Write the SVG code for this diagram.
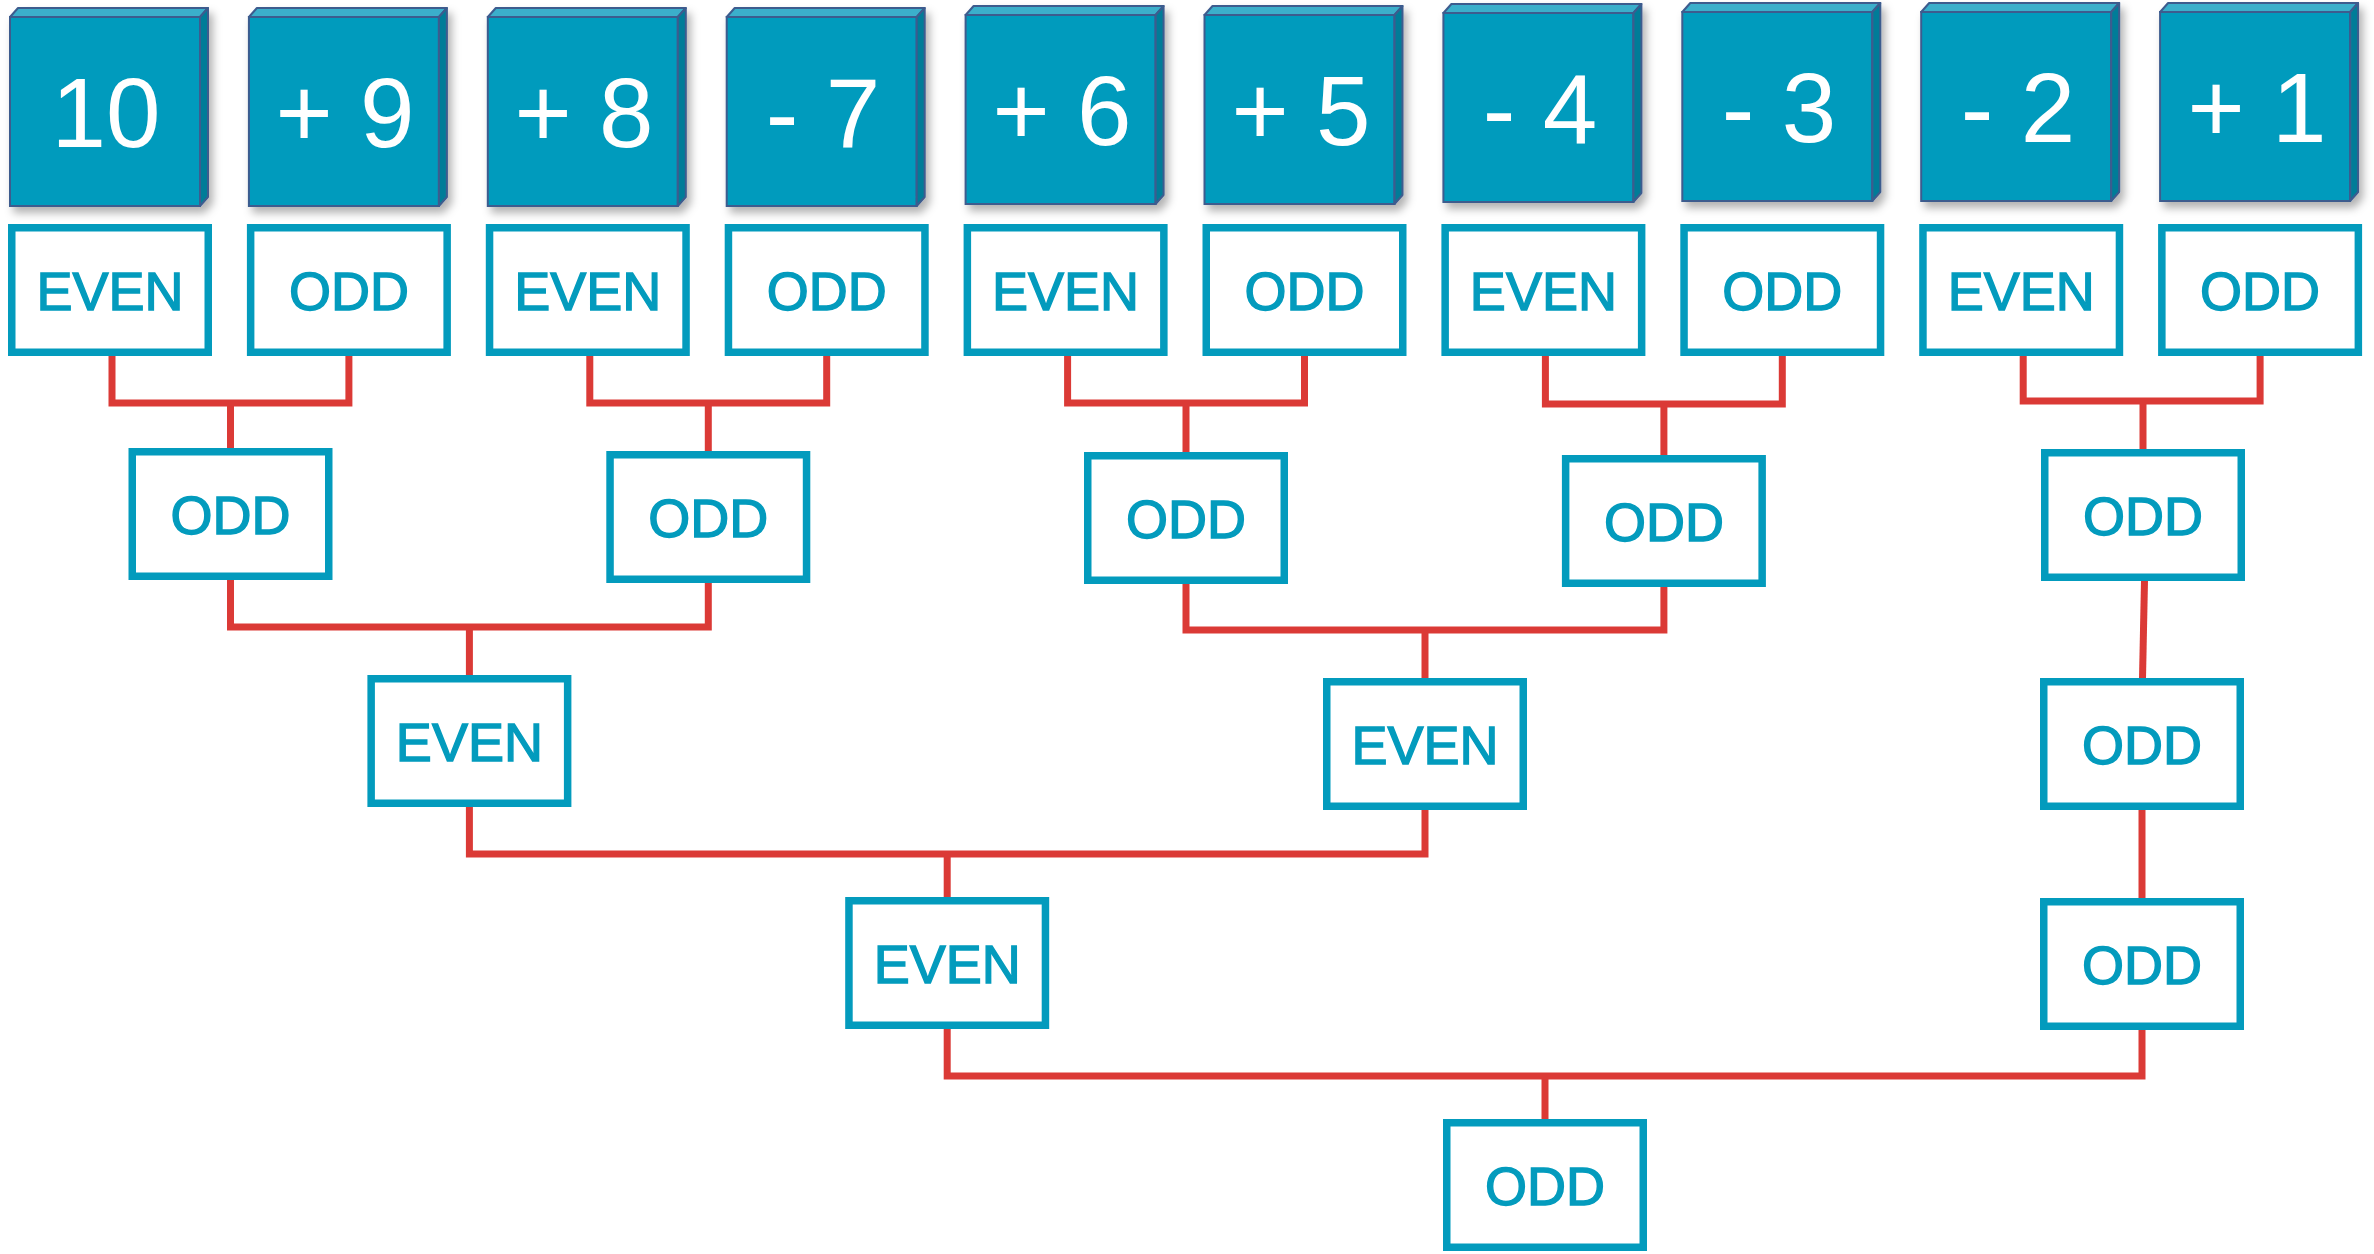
<svg xmlns="http://www.w3.org/2000/svg" width="2374" height="1254" viewBox="0 0 2374 1254">
<defs>
<filter id="sh" x="-10%" y="-10%" width="130%" height="130%">
<feDropShadow dx="4" dy="6" stdDeviation="4" flood-color="#000" flood-opacity="0.3"/>
</filter>
<style>
.front{fill:#039BBD;stroke:#3C5B8E;stroke-width:2}
.top{fill:#3AAFCB;stroke:#3C5B8E;stroke-width:2;stroke-linejoin:round}
.side{fill:#047C98;stroke:#3C5B8E;stroke-width:2;stroke-linejoin:round}
.num{font-family:"Liberation Sans",Arial,sans-serif;font-size:98px;fill:#fff;text-anchor:middle}
.box{fill:#fff;stroke:#039BBD;stroke-width:7.5}
.lbl{font-family:"Liberation Sans",Arial,sans-serif;font-size:54px;fill:#039BBD;stroke:#039BBD;stroke-width:1.4;text-anchor:middle}
.wire{fill:none;stroke:#DB3A36;stroke-width:7}
</style>
</defs>
<rect width="2374" height="1254" fill="#fff"/>

<g id="blocks">
<g id="b1" filter="url(#sh)"><rect class="front" x="10" y="17" width="190" height="189"/><polygon class="top" points="10,17 18,8 208,8 200,17"/><polygon class="side" points="200,17 208,8 208,197 200,206"/><text class="num" x="106" y="147">10</text></g>
<g id="b2" filter="url(#sh)"><rect class="front" x="248.9" y="17" width="190" height="189"/><polygon class="top" points="248.9,17 256.9,8 446.9,8 438.9,17"/><polygon class="side" points="438.9,17 446.9,8 446.9,197 438.9,206"/><text class="num" x="345" y="147">+ 9</text></g>
<g id="b3" filter="url(#sh)"><rect class="front" x="487.8" y="17" width="190" height="189"/><polygon class="top" points="487.8,17 495.8,8 685.8,8 677.8,17"/><polygon class="side" points="677.8,17 685.8,8 685.8,197 677.8,206"/><text class="num" x="584" y="147">+ 8</text></g>
<g id="b4" filter="url(#sh)"><rect class="front" x="726.7" y="17" width="190" height="189"/><polygon class="top" points="726.7,17 734.7,8 924.7,8 916.7,17"/><polygon class="side" points="916.7,17 924.7,8 924.7,197 916.7,206"/><text class="num" x="823" y="147">- 7</text></g>
<g id="b5" filter="url(#sh)"><rect class="front" x="965.6" y="15" width="190" height="189"/><polygon class="top" points="965.6,15 973.6,6 1163.6,6 1155.6,15"/><polygon class="side" points="1155.6,15 1163.6,6 1163.6,195 1155.6,204"/><text class="num" x="1062" y="145">+ 6</text></g>
<g id="b6" filter="url(#sh)"><rect class="front" x="1204.5" y="15" width="190" height="189"/><polygon class="top" points="1204.5,15 1212.5,6 1402.5,6 1394.5,15"/><polygon class="side" points="1394.5,15 1402.5,6 1402.5,195 1394.5,204"/><text class="num" x="1301" y="145">+ 5</text></g>
<g id="b7" filter="url(#sh)"><rect class="front" x="1443.4" y="13" width="190" height="189"/><polygon class="top" points="1443.4,13 1451.4,4 1641.4,4 1633.4,13"/><polygon class="side" points="1633.4,13 1641.4,4 1641.4,193 1633.4,202"/><text class="num" x="1540" y="143">- 4</text></g>
<g id="b8" filter="url(#sh)"><rect class="front" x="1682.3" y="12" width="190" height="189"/><polygon class="top" points="1682.3,12 1690.3,3 1880.3,3 1872.3,12"/><polygon class="side" points="1872.3,12 1880.3,3 1880.3,192 1872.3,201"/><text class="num" x="1779" y="142">- 3</text></g>
<g id="b9" filter="url(#sh)"><rect class="front" x="1921.2" y="12" width="190" height="189"/><polygon class="top" points="1921.2,12 1929.2,3 2119.2,3 2111.2,12"/><polygon class="side" points="2111.2,12 2119.2,3 2119.2,192 2111.2,201"/><text class="num" x="2018" y="142">- 2</text></g>
<g id="b10" filter="url(#sh)"><rect class="front" x="2160.1" y="12" width="190" height="189"/><polygon class="top" points="2160.1,12 2168.1,3 2358.1,3 2350.1,12"/><polygon class="side" points="2350.1,12 2358.1,3 2358.1,192 2350.1,201"/><text class="num" x="2257" y="142">+ 1</text></g>
</g>

<g id="connectors">
<path class="wire" d="M112,356 V403 H348.9 V356 M230.5,403 V448"/>
<path class="wire" d="M589.8,356 V403 H826.7 V356 M708.3,403 V451"/>
<path class="wire" d="M1067.6,356 V403 H1304.5 V356 M1186,403 V452"/>
<path class="wire" d="M1545.4,356 V404 H1782.3 V356 M1663.9,404 V455"/>
<path class="wire" d="M2023.2,356 V401 H2260.1 V356 M2143,401 V449"/>
<path class="wire" d="M230.5,580 V627 H708.3 V583 M469.4,627 V675"/>
<path class="wire" d="M1186,584 V630 H1663.9 V587 M1425,630 V678"/>
<path class="wire" d="M2144.5,581 L2142.5,678"/>
<path class="wire" d="M469.4,807 V854 H1425 V810 M947.2,854 V897"/>
<path class="wire" d="M2142,810 V898"/>
<path class="wire" d="M947.2,1029 V1076 H2142 V1030 M1545,1076 V1119"/>
</g>

<g id="row1">
<g id="r1n1"><rect class="box" x="11.75" y="227.75" width="196.5" height="124.5"/><text class="lbl" x="110" y="310">EVEN</text></g>
<g id="r1n2"><rect class="box" x="250.65" y="227.75" width="196.5" height="124.5"/><text class="lbl" x="348.9" y="310">ODD</text></g>
<g id="r1n3"><rect class="box" x="489.55" y="227.75" width="196.5" height="124.5"/><text class="lbl" x="587.8" y="310">EVEN</text></g>
<g id="r1n4"><rect class="box" x="728.45" y="227.75" width="196.5" height="124.5"/><text class="lbl" x="826.7" y="310">ODD</text></g>
<g id="r1n5"><rect class="box" x="967.35" y="227.75" width="196.5" height="124.5"/><text class="lbl" x="1065.6" y="310">EVEN</text></g>
<g id="r1n6"><rect class="box" x="1206.25" y="227.75" width="196.5" height="124.5"/><text class="lbl" x="1304.5" y="310">ODD</text></g>
<g id="r1n7"><rect class="box" x="1445.15" y="227.75" width="196.5" height="124.5"/><text class="lbl" x="1543.4" y="310">EVEN</text></g>
<g id="r1n8"><rect class="box" x="1684.05" y="227.75" width="196.5" height="124.5"/><text class="lbl" x="1782.3" y="310">ODD</text></g>
<g id="r1n9"><rect class="box" x="1922.95" y="227.75" width="196.5" height="124.5"/><text class="lbl" x="2021.2" y="310">EVEN</text></g>
<g id="r1n10"><rect class="box" x="2161.85" y="227.75" width="196.5" height="124.5"/><text class="lbl" x="2260.1" y="310">ODD</text></g>
</g>

<g id="row2">
<g id="r2a"><rect class="box" x="132.25" y="451.75" width="196.5" height="124.5"/><text class="lbl" x="230.5" y="534">ODD</text></g>
<g id="r2b"><rect class="box" x="610.05" y="454.75" width="196.5" height="124.5"/><text class="lbl" x="708.3" y="537">ODD</text></g>
<g id="r2c"><rect class="box" x="1087.75" y="455.75" width="196.5" height="124.5"/><text class="lbl" x="1186" y="538">ODD</text></g>
<g id="r2d"><rect class="box" x="1565.65" y="458.75" width="196.5" height="124.5"/><text class="lbl" x="1663.9" y="541">ODD</text></g>
<g id="r2e"><rect class="box" x="2044.75" y="452.75" width="196.5" height="124.5"/><text class="lbl" x="2143" y="535">ODD</text></g>
</g>

<g id="row3">
<g id="r3f"><rect class="box" x="371.15" y="678.75" width="196.5" height="124.5"/><text class="lbl" x="469.4" y="761">EVEN</text></g>
<g id="r3g"><rect class="box" x="1326.75" y="681.75" width="196.5" height="124.5"/><text class="lbl" x="1425" y="764">EVEN</text></g>
<g id="r3h"><rect class="box" x="2043.75" y="681.75" width="196.5" height="124.5"/><text class="lbl" x="2142" y="764">ODD</text></g>
</g>

<g id="row4">
<g id="r4j"><rect class="box" x="848.95" y="900.75" width="196.5" height="124.5"/><text class="lbl" x="947.2" y="983">EVEN</text></g>
<g id="r4i"><rect class="box" x="2043.75" y="901.75" width="196.5" height="124.5"/><text class="lbl" x="2142" y="984">ODD</text></g>
</g>

<g id="row5">
<g id="r5k"><rect class="box" x="1446.75" y="1122.75" width="196.5" height="124.5"/><text class="lbl" x="1545" y="1205">ODD</text></g>
</g>
</svg>
